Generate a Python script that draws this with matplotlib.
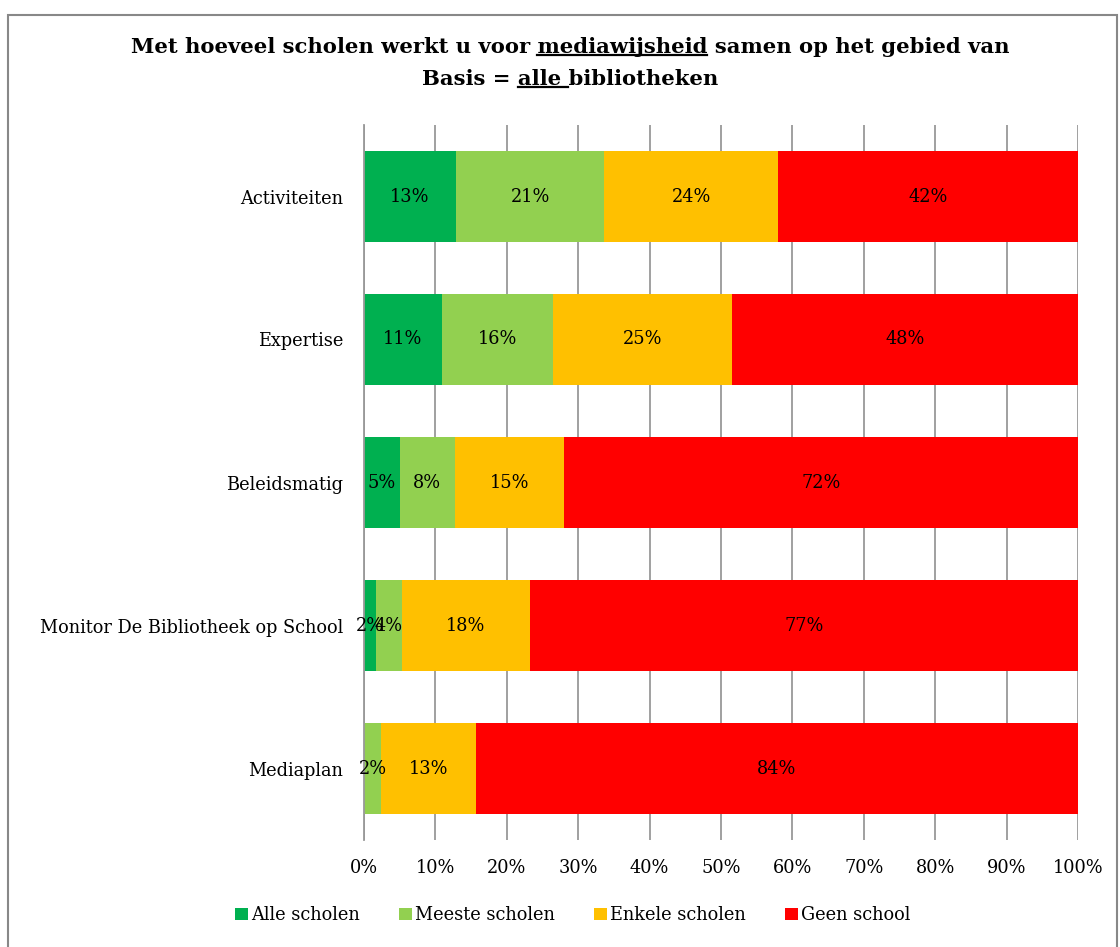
import matplotlib
matplotlib.use("Agg")
import matplotlib.pyplot as plt
from matplotlib.patches import Rectangle
from matplotlib.lines import Line2D
import numpy as np

categories = ["Activiteiten", "Expertise", "Beleidsmatig",
              "Monitor De Bibliotheek op School", "Mediaplan"]
series_names = ["Alle scholen", "Meeste scholen", "Enkele scholen", "Geen school"]
alle = [12.9, 10.9, 5.0, 1.7, 0.0]
meeste = [20.7, 15.6, 7.7, 3.6, 2.4]
enkele = [24.4, 25.0, 15.3, 17.9, 13.3]
geen = [42.0, 48.5, 72.0, 76.8, 84.3]
colors = ["#00B050", "#92D050", "#FFC000", "#FF0000"]
xticks = [0, 10, 20, 30, 40, 50, 60, 70, 80, 90, 100]

plt.rcParams['font.family'] = ['DejaVu Serif']

fig = plt.figure(figsize=(11.2, 9.47), dpi=100)
W, H = 1120, 947
ax = fig.add_axes([364 / W, 1 - 840 / H, (1078 - 364) / W, (840 - 125) / H])

FS = 12.8
y = np.arange(len(categories))
left = np.zeros(len(categories))
for name, vals, c in zip(series_names, [alle, meeste, enkele, geen], colors):
    vals = np.array(vals)
    ax.barh(y, vals, left=left, height=0.63, color=c, label=name, zorder=2)
    for yi, l, v in zip(y, left, vals):
        if v > 0:
            ax.text(l + v / 2, yi, f"{round(v):.0f}%", ha="center", va="center",
                    fontsize=FS, color="black", zorder=3)
    left = left + vals

ax.set_xlim(0, 100)
ax.set_ylim(len(categories) - 0.5, -0.5)
ax.set_yticks(y)
ax.set_yticklabels(categories, fontsize=FS)
ax.set_xticks(xticks)
ax.set_xticklabels([f"{t}%" for t in xticks], fontsize=FS)
ax.tick_params(axis="y", length=0, pad=15)
ax.tick_params(axis="x", length=0, pad=14)
ax.grid(axis="x", color="#999999", linewidth=1.3, zorder=0)
for s in ["top", "right", "bottom"]:
    ax.spines[s].set_visible(False)
ax.spines["left"].set_color("#999999")
ax.spines["left"].set_linewidth(1.3)

renderer = fig.canvas.get_renderer()
TFS = 15.2


def title_line(parts, yc):
    full = "".join(p for p, _ in parts)
    t = fig.text(570 / W, yc, full, ha="center", va="center",
                 fontsize=TFS, fontweight="bold")
    bb = t.get_window_extent(renderer)
    x0 = bb.x0
    prefix = ""
    for p, ul in parts:
        if ul:
            tmp = fig.text(0, 0, prefix + "|", fontsize=TFS, fontweight="bold")
            tmp2 = fig.text(0, 0, "|", fontsize=TFS, fontweight="bold")
            w_pre = tmp.get_window_extent(renderer).width - tmp2.get_window_extent(renderer).width
            tmp3 = fig.text(0, 0, prefix + p + "|", fontsize=TFS, fontweight="bold")
            w_end = tmp3.get_window_extent(renderer).width - tmp2.get_window_extent(renderer).width
            for tt in (tmp, tmp2, tmp3):
                tt.remove()
            if not prefix:
                w_pre = 0
            ly = bb.y0 + 2
            fig.add_artist(Line2D([(x0 + w_pre) / W, (x0 + w_end) / W], [ly / H, ly / H],
                                  transform=fig.transFigure, color="black", linewidth=1.6))
        prefix += p


title_line([("Met hoeveel scholen werkt u voor ", False), ("mediawijsheid", True),
            (" samen op het gebied van", False)], 1 - 47 / H)
title_line([("Basis = ", False), ("alle ", True), ("bibliotheken", False)], 1 - 79 / H)

handles, labels = ax.get_legend_handles_labels()
fig.legend(handles, labels, loc="center", bbox_to_anchor=(573 / W, 1 - 915 / H),
           ncol=4, frameon=False, fontsize=FS, handlelength=0.7, handleheight=0.7,
           handletextpad=0.2, columnspacing=2.2)

fig.patches.append(Rectangle((8 / W, -0.01), (1117 - 8) / W, 1 - 15 / H + 0.01,
                             transform=fig.transFigure, fill=False,
                             edgecolor="#888888", linewidth=1.5))

fig.savefig("out.png", dpi=100)
